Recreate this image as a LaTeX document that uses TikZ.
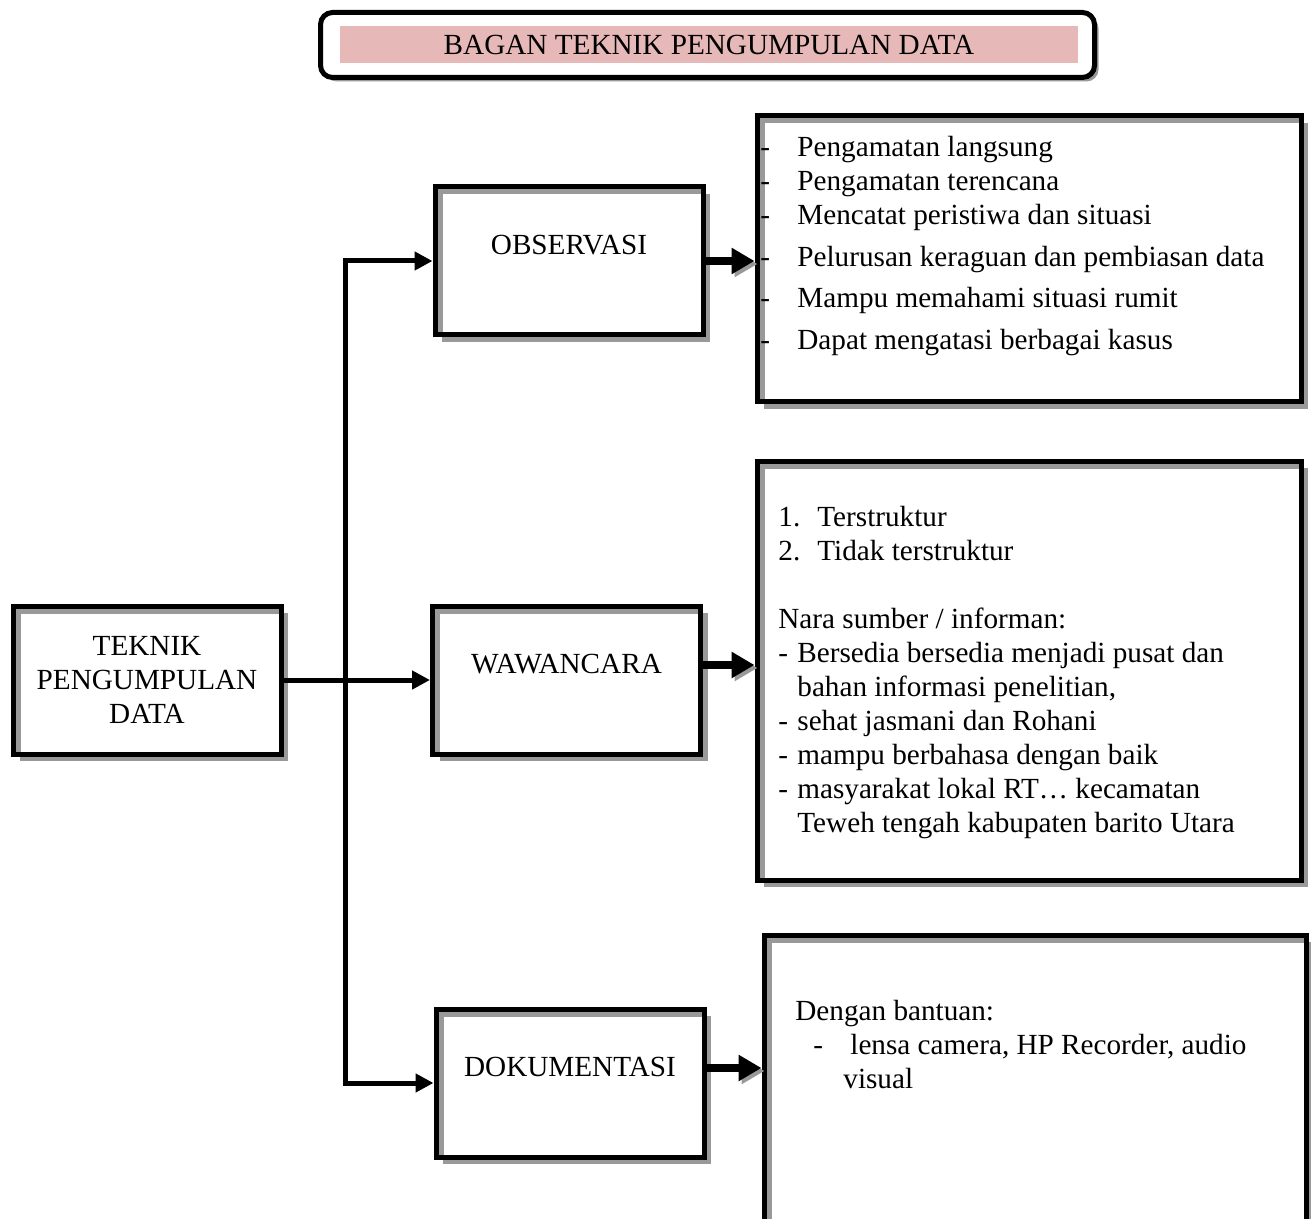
\documentclass[tikz,border=0pt]{standalone}
\usepackage{fontspec}
\setmainfont{Liberation Serif}
\usetikzlibrary{arrows.meta,shadows,positioning}

\definecolor{merahmuda}{RGB}{230,184,183}
\newcommand{\huruf}{\fontsize{14.6}{17}\selectfont}
\newcommand{\butir}[1]{\makebox[#1][l]{-}}

\tikzset{
	kotak/.style={draw, line width=2.5pt, fill=white, inner sep=0pt,
		drop shadow={shadow xshift=3.5pt, shadow yshift=-3.5pt, fill=black!40, opacity=1}},
	kecil/.style={kotak, minimum width=134pt, minimum height=74pt, align=center, font=\huruf},
	besar/.style={kotak, minimum width=272pt},
	geser/.style={text height=10pt, text depth=16.5pt},
	garisdalam/.style={black!40, line width=2.5pt},
	teks/.style={inner sep=0pt, align=left, font=\huruf, anchor=north west},
	panah/.style={line width=2.5pt, -{Triangle[length=9pt, width=9pt]}},
	panahtebal/.style={line width=4pt, -{Triangle[length=11.5pt, width=12.5pt]},
		preaction={draw=black!40, transform canvas={shift={(1.5pt,-1.5pt)}}}}
}

\begin{document}
\begin{tikzpicture}[x=0.5pt, y=-0.5pt]
	%%%%% START %%%%%
	\clip (0,0) rectangle (1311,1219);
	
	% judul
	\node[draw, line width=2.5pt, rounded corners=6pt, fill=white, minimum width=387pt, minimum height=32.5pt,
		drop shadow={shadow xshift=2pt, shadow yshift=-2pt, fill=black!40, opacity=1}] (bingkai) at (707.5,45) {};
	\node[fill=merahmuda, minimum width=369pt, minimum height=18.5pt, inner sep=0pt,
		font=\huruf] (judul) at (709,44.5) {BAGAN TEKNIK PENGUMPULAN DATA};
	
	% kotak kiri dan tengah
	\node[kecil] (teknik) at (147,680) {TEKNIK\\PENGUMPULAN\\DATA};
	\node[kecil, geser] (obs) at (569,261) {OBSERVASI};
	\node[kecil, geser] (waw) at (566.5,680) {WAWANCARA};
	\node[kecil, geser] (dok) at (570,1083) {DOKUMENTASI};
	
	% kotak rincian
	\node[besar, minimum height=143pt] (rinci1) at (1029,259) {};
	\node[besar, minimum height=209.5pt] (rinci2) at (1029,670.5) {};
	\node[besar, minimum width=271pt, minimum height=162.5pt] (rinci3) at (1035,1097.5) {};
	
	% garis abu-abu di sisi dalam
	\foreach \k in {teknik,obs,waw,dok,rinci1,rinci2,rinci3}
		\draw[garisdalam] ([shift={(3.75pt,2.5pt)}]\k.south west) |- ([shift={(-2.5pt,-3.75pt)}]\k.north east);
	
	\node[teks] (isi1) at (760,135.5) {\butir{18.5pt}Pengamatan langsung\\
		\butir{18.5pt}Pengamatan terencana\\
		\butir{18.5pt}Mencatat peristiwa dan situasi\\[4pt]
		\butir{18.5pt}Pelurusan keraguan dan pembiasan data\\[3.5pt]
		\butir{18.5pt}Mampu memahami situasi rumit\\[4pt]
		\butir{18.5pt}Dapat mengatasi berbagai kasus};
	
	\node[teks] (isi2) at (778,505.5) {\makebox[19.5pt][l]{1.}Terstruktur\\
		\makebox[19.5pt][l]{2.}Tidak terstruktur\\[17pt]
		Nara sumber / informan:\\
		\butir{9.5pt}Bersedia bersedia menjadi pusat dan\\
		\hspace*{9.5pt}bahan informasi penelitian,\\
		\butir{9.5pt}sehat jasmani dan Rohani\\
		\butir{9.5pt}mampu berbahasa dengan baik\\
		\butir{9.5pt}masyarakat lokal RT… kecamatan\\
		\hspace*{9.5pt}Teweh tengah kabupaten barito Utara};
	
	\node[teks] (isi3) at (795,999.5) {Dengan bantuan:\\
		\hspace*{9pt}\butir{18.5pt}lensa camera, HP Recorder, audio\\
		\hspace*{24pt}visual};
	
	% panah
	\coordinate (cabang) at (345,683);
	\draw[panah] (teknik.east) -- (teknik.east -| waw.west);
	\draw[panah] (cabang) |- (obs.west);
	\draw[panah] (cabang) |- (dok.west);
	
	\draw[panahtebal] (obs.east) -- (obs.east -| rinci1.west);
	\draw[panahtebal] ([yshift=7.5pt]waw.east) -- ([yshift=7.5pt]waw.east -| rinci2.west);
	\draw[panahtebal] ([yshift=7.5pt]dok.east) -- ([yshift=7.5pt]dok.east -| rinci3.west);
	
	%%%%% END %%%%%
\end{tikzpicture}
\end{document}
